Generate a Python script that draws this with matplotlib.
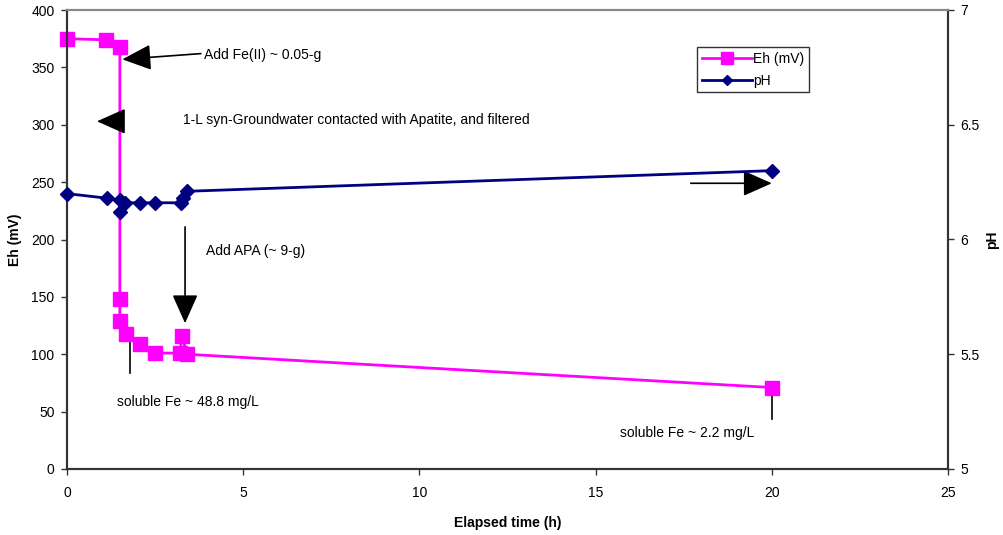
import matplotlib
matplotlib.use("Agg")
import matplotlib.pyplot as plt

plt.rcParams['font.family'] = ['Liberation Sans', 'DejaVu Sans']

# Data
eh_time = [0, 1.1, 1.5, 1.5, 1.5, 1.67, 2.07, 2.5, 3.2, 3.27, 3.4, 20]
eh_mv = [375, 374, 368, 148, 129, 118, 109, 101, 101, 116, 100, 71]
ph_time = [0, 1.13, 1.5, 1.5, 1.65, 2.07, 2.5, 3.24, 3.3, 3.4, 20]
ph_val = [6.20, 6.18, 6.17, 6.12, 6.16, 6.16, 6.16, 6.16, 6.18, 6.21, 6.30]

x_ticks = [0, 5, 10, 15, 20, 25]
eh_ticks = [0, 50, 100, 150, 200, 250, 300, 350, 400]
ph_ticks = [5, 5.5, 6, 6.5, 7]
ph_tick_labels = ['5', '5.5', '6', '6.5', '7']

fig = plt.figure(figsize=(10.04, 5.35), dpi=100)
ax = fig.add_axes([67/1004, 1 - 469/535, (948-67)/1004, (469-10)/535])
ax2 = ax.twinx()

magenta = '#FF00FF'
navy = '#000080'

l1, = ax.plot(eh_time, eh_mv, color=magenta, lw=2, marker='s', ms=10,
              mfc=magenta, mec=magenta, label='Eh (mV)', zorder=3, clip_on=False)
l2, = ax2.plot(ph_time, ph_val, color=navy, lw=2, marker='D', ms=7,
               mfc=navy, mec=navy, label='pH', zorder=3, clip_on=False)

ax.set_xlim(0, 25)
ax.set_ylim(0, 400)
ax2.set_ylim(5, 7)
ax.set_xticks(x_ticks)
ax.set_yticks(eh_ticks)
ax2.set_yticks(ph_ticks)
ax2.set_yticklabels(ph_tick_labels)

for a in (ax, ax2):
    a.tick_params(labelsize=10, length=4, width=1, color='#333333', pad=5)
    for s in a.spines.values():
        s.set_color('#333333')
        s.set_linewidth(1.5)
    a.spines['top'].set_color('#888888')
ax.tick_params(axis='x', pad=8)

ax.set_xlabel('Elapsed time (h)', fontsize=10, fontweight='bold', labelpad=12)
ax.set_ylabel('Eh (mV)', fontsize=10, fontweight='bold')
ax.yaxis.set_label_coords(-0.051, 0.5)
ax2.set_ylabel('pH', fontsize=10, fontweight='bold', rotation=90)
ax2.yaxis.set_label_coords(1.042, 0.5)

ax.legend(handles=[l1, l2], loc='upper left', bbox_to_anchor=(697/1004, 1 - 47/535),
          bbox_transform=fig.transFigure, fontsize=10, frameon=True, fancybox=False,
          edgecolor='black', handlelength=3.6, borderpad=0.35, labelspacing=0.55,
          handletextpad=0.1, markerscale=0.8, borderaxespad=0)

arrow = dict(arrowstyle='-|>,head_length=1.8,head_width=0.8', color='black', lw=1.2,
             shrinkA=0, shrinkB=0)

# Annotations
ax.annotate('', xy=(1.57, 357), xytext=(3.8, 362), arrowprops=arrow)
ax.text(3.9, 361, 'Add Fe(II) ~ 0.05-g', fontsize=10, va='center')
ax.annotate('', xy=(0.85, 303), xytext=(1.55, 303), arrowprops=arrow)
ax.text(3.3, 304, '1-L syn-Groundwater contacted with Apatite, and filtered', fontsize=10, va='center')
ax.annotate('', xy=(3.35, 127), xytext=(3.35, 211), arrowprops=arrow)
ax.text(3.95, 190, 'Add APA (~ 9-g)', fontsize=10, va='center')
ax.plot([1.78, 1.78], [111, 84], color='black', lw=1.2)
ax.text(1.42, 58, 'soluble Fe ~ 48.8 mg/L', fontsize=10, va='center')
ax.annotate('', xy=(20.0, 249), xytext=(17.7, 249), arrowprops=arrow)
ax.plot([20.0, 20.0], [69, 44], color='black', lw=1.2)
ax.text(15.7, 31, 'soluble Fe ~ 2.2 mg/L', fontsize=10, va='center')

fig.savefig('out.png', dpi=100)
